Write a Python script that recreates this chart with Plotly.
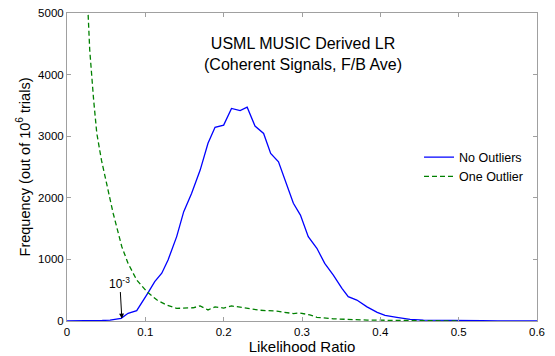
import plotly.graph_objects as go

# No Outliers (blue solid)
lr_no = [0.0, 0.02, 0.035, 0.045, 0.055, 0.062, 0.069, 0.078, 0.089, 0.103, 0.112, 0.121, 0.129,
         0.140, 0.149, 0.159, 0.170, 0.180, 0.189, 0.200, 0.210, 0.221, 0.230, 0.240,
         0.251, 0.260, 0.270, 0.289, 0.298, 0.308, 0.319, 0.329, 0.340, 0.351, 0.359,
         0.370, 0.383, 0.396, 0.406, 0.421, 0.438, 0.455, 0.474, 0.49, 0.51, 0.53, 0.55, 0.6]
freq_no = [0, 0, 3, 8, 15, 25, 44, 125, 167, 450, 640, 775, 990,
           1370, 1775, 2070, 2450, 2885, 3145, 3180, 3450, 3415, 3470, 3165,
           3045, 2720, 2585, 1910, 1720, 1370, 1180, 935, 745, 530, 395,
           340, 230, 140, 90, 60, 28, 15, 15, 6, 4, 6, 2, 0]

# One Outlier (green dashed)
lr_one = [0.027, 0.029, 0.034, 0.038, 0.044, 0.051, 0.059, 0.070, 0.078, 0.089, 0.102,
          0.115, 0.127, 0.140, 0.151, 0.161, 0.170, 0.180, 0.189, 0.200, 0.210, 0.221,
          0.234, 0.246, 0.268, 0.289, 0.297, 0.310, 0.319, 0.340, 0.383, 0.42, 0.46, 0.5]
freq_one = [4970, 4400, 3590, 3050, 2610, 2180, 1745, 1205, 935, 665, 475,
            340, 260, 205, 215, 215, 245, 180, 230, 210, 245, 225,
            200, 175, 160, 120, 130, 100, 60, 35, 15, 8, 4, 0]

x_ticks = [0, 0.1, 0.2, 0.3, 0.4, 0.5, 0.6]
x_labels = ["0", "0.1", "0.2", "0.3", "0.4", "0.5", "0.6"]
y_ticks = [0, 1000, 2000, 3000, 4000, 5000]

fig = go.Figure()
fig.add_trace(go.Scatter(x=lr_no, y=freq_no, mode="lines", name="No Outliers",
                         line=dict(color="#0000ff", width=1.3)))
fig.add_trace(go.Scatter(x=lr_one, y=freq_one, mode="lines", name="One Outlier",
                         line=dict(color="#008000", width=1.3, dash="5px,3px")))

font = "Liberation Sans, Arial, sans-serif"
axis_common = dict(showgrid=False, zeroline=False, showline=True, mirror="ticks",
                   linecolor="#a0a0a0", linewidth=1, ticks="inside", ticklen=4,
                   tickcolor="#a0a0a0", automargin=False,
                   tickfont=dict(family=font, size=11.5, color="black"))

fig.update_layout(
    width=555, height=356,
    margin=dict(l=67, r=18, t=13, b=35),
    plot_bgcolor="white", paper_bgcolor="white",
    font=dict(family=font, color="black"),
    xaxis=dict(range=[0, 0.6], tickvals=x_ticks, ticktext=x_labels,
               title=dict(text="Likelihood Ratio", font=dict(size=15), standoff=0),
               **axis_common),
    yaxis=dict(range=[0, 5000], tickvals=y_ticks,
               title=dict(text="Frequency (out of 10<sup>6</sup> trials)", font=dict(size=14.5), standoff=4),
               **axis_common),
    legend=dict(x=0.749, y=0.50, xanchor="left", yanchor="middle",
                bgcolor="rgba(0,0,0,0)", font=dict(size=12.5), tracegroupgap=0),
    showlegend=True,
)

fig.add_annotation(x=0.503, y=0.935, xref="paper", yref="paper", showarrow=False,
                   text="USML MUSIC Derived LR<br>(Coherent Signals, F/B Ave)",
                   font=dict(size=16, family=font), align="center")

fig.add_annotation(x=0.07, y=40, xref="x", yref="y", text="10<sup>-3</sup>",
                   showarrow=True, ax=-2, ay=-36, arrowhead=2, arrowsize=1,
                   arrowwidth=1, arrowcolor="black", font=dict(size=12, family=font))

fig.write_html("out.html", config={"displayModeBar": False},
               post_script="document.body.style.margin='0';document.body.style.overflow='hidden';")
